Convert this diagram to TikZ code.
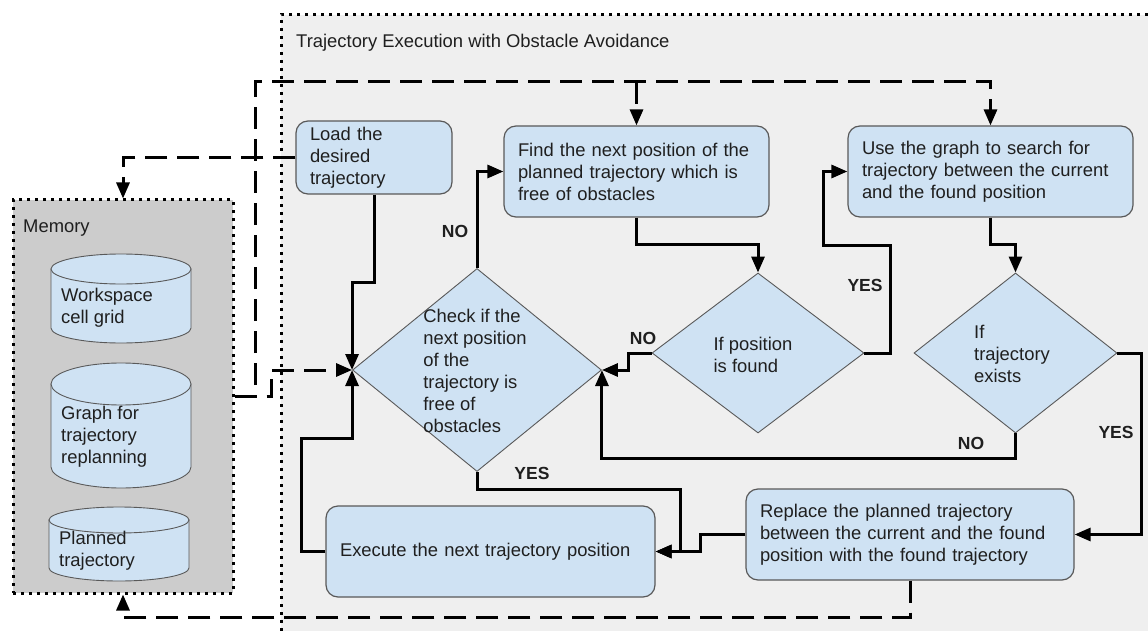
\documentclass[tikz,border=0pt]{standalone}
\usepackage{fontspec}
\setmainfont{Liberation Sans}
\usetikzlibrary{arrows.meta,shapes.geometric,calc}

\definecolor{boxblue}{HTML}{CFE2F3}
\definecolor{edgegray}{HTML}{595959}
\definecolor{panelgray}{HTML}{EFEFEF}
\definecolor{memgray}{HTML}{CCCCCC}
\definecolor{ink}{HTML}{1F1F1F}

% database cylinder: left, right, top, bottom, ellipse half-height
\newcommand{\dbcylinder}[5]{%
  \pgfmathsetmacro\cylL{#1}\pgfmathsetmacro\cylR{#2}%
  \pgfmathsetmacro\cylTop{#3}\pgfmathsetmacro\cylBot{#4}%
  \pgfmathsetmacro\cylRy{#5}%
  \pgfmathsetmacro\cylCx{(#1+#2)/2}\pgfmathsetmacro\cylRx{(#2-#1)/2}%
  \pgfmathsetmacro\cylK{0.5523}%
  \pgfmathsetmacro\cylYt{#3+#5}\pgfmathsetmacro\cylYb{#4-#5}%
  \filldraw[fill=boxblue, draw=edgegray, line width=0.9pt]
    (\cylL,\cylYt) -- (\cylL,\cylYb)
    .. controls (\cylL,\cylYb+\cylK*\cylRy) and (\cylCx-\cylK*\cylRx,\cylBot) .. (\cylCx,\cylBot)
    .. controls (\cylCx+\cylK*\cylRx,\cylBot) and (\cylR,\cylYb+\cylK*\cylRy) .. (\cylR,\cylYb)
    -- (\cylR,\cylYt) -- cycle;
  \filldraw[fill=boxblue, draw=edgegray, line width=0.9pt]
    (\cylCx,\cylYt) ellipse [x radius=\cylRx pt, y radius=\cylRy pt];
}

\begin{document}
\begin{tikzpicture}[x=1pt,y=-1pt,
  txt/.style={font=\fontsize{18.4}{22}\selectfont, text=ink},
  procbox/.style={rectangle, rounded corners=12pt, draw=edgegray, line width=1.2pt,
    fill=boxblue, inner xsep=14pt, inner ysep=0pt, align=left, txt},
  decision/.style={diamond, draw=edgegray, line width=0.9pt, fill=boxblue, inner sep=0pt},
  dectext/.style={txt, align=left, inner sep=0pt},
  conn/.style={line width=3pt, -{Triangle[length=16pt,width=13pt]}},
  dconn/.style={conn, dash pattern=on 22pt off 10pt},
  answer/.style={font=\fontsize{17.5}{20}\selectfont\bfseries, text=ink, inner sep=0pt},
  dotborder/.style={line width=3pt, dash pattern=on 3pt off 5pt},
]
\useasboundingbox (0,0) rectangle (1148,631);

% execution panel
\fill[panelgray] (281,15) rectangle (1148,631);
\draw[dotborder] (281,631) -- (281,15) -- (1148,15);
\node[txt, anchor=west, inner sep=0pt] (title) at (296,43) {Trajectory Execution with Obstacle Avoidance};

% memory store
\node[draw=black, dotborder, fill=memgray, minimum width=220pt, minimum height=393pt, inner sep=0pt] (mem) at (123,396.5) {};
\node[txt, anchor=west, inner sep=0pt] (memlabel) at (23,228) {Memory};

\dbcylinder{51}{191}{254}{343}{15}
\node[txt, align=left, anchor=west, inner sep=0pt] (wstxt) at (61,307.5) {Workspace\\cell grid};
\dbcylinder{51}{191}{363}{488}{21}
\node[txt, align=left, anchor=west, inner sep=0pt] (graphtxt) at (61,436.5) {Graph for\\trajectory\\replanning};
\dbcylinder{49}{189}{507}{581}{13}
\node[txt, align=left, anchor=west, inner sep=0pt] (plantxt) at (59,550.5) {Planned\\trajectory};

% process steps
\node[procbox, text width=128pt, minimum height=73pt] (load) at (374,157.5) {Load the\\desired\\trajectory};
\node[procbox, text width=237pt, minimum height=91pt] (find) at (636.5,171.5) {Find the next position of the\\planned trajectory which is\\free of obstacles};
\node[procbox, text width=257pt, minimum height=91pt] (use) at (990.5,171.5) {Use the graph to search for\\trajectory between the current\\and the found position};
\node[procbox, text width=301pt, minimum height=91pt] (exec) at (490.5,551.5) {Execute the next trajectory position};
\node[procbox, text width=300pt, minimum height=91pt] (rep) at (910,534.5) {Replace the planned trajectory\\between the current and the found\\position with the found trajectory};

% decisions
\node[decision, minimum width=249pt, minimum height=203pt] (check) at (477,370) {};
\node[dectext] (checktxt) at (475,371) {Check if the\\next position\\of the\\trajectory is\\free of\\obstacles};
\node[decision, minimum width=212pt, minimum height=160pt] (ifpos) at (758,353) {};
\node[dectext] (ifpostxt) at (753,355) {If position\\is found};
\node[decision, minimum width=203pt, minimum height=160pt] (iftraj) at (1015.5,353) {};
\node[dectext] (iftrajtxt) at (1012,354) {If\\trajectory\\exists};

% routing points
\coordinate (trunk) at (255,82);
\coordinate (chkin) at (271,370);
\coordinate (jload) at (0,282);
\coordinate (jexec) at (301,438);
\coordinate (jfind) at (0,244);
\coordinate (jyes1) at (890,245);
\coordinate (jyes1b) at (823,245);
\coordinate (jno1) at (628,370);
\coordinate (jno2) at (0,458);
\coordinate (jyes2) at (1141,450);
\coordinate (jyes3) at (680,489);
\coordinate (jrep) at (700,540);
\coordinate (jmem) at (0,617);

% data flow to and from memory
\draw[dconn] (mem.east) -| (chkin) -- (check.west);
\draw[dconn] (mem.east) -| (trunk) -| (use.north);
\draw[dconn] (find.north |- trunk) -- (find.north);
\draw[dconn] (load.west) -| (mem.north);
\draw[dconn] (rep.south) |- (mem.south |- jmem) -- (mem.south);

% control flow
\draw[conn] (load.south) -- (load.south |- jload) -| (check.west);
\draw[conn] (exec.west) -| (jexec) -| (check.west);
\draw[conn] (check.north) |- (find.west);
\draw[conn] (find.south) -- (find.south |- jfind) -| (ifpos.north);
\draw[conn] (ifpos.east) -| (jyes1) -- (jyes1b) |- (use.west);
\draw[conn] (ifpos.west) -| (jno1) -- (check.east);
\draw[conn] (use.south) -- (use.south |- jfind) -| (iftraj.north);
\draw[conn] (iftraj.south) |- (check.east |- jno2) -- (check.east);
\draw[conn] (iftraj.east) -| (jyes2) |- (rep.east);
\draw[conn] (check.south) |- (jyes3) |- (exec.east);
\draw[conn] (rep.west) -| (jrep) |- (exec.east);

% branch labels
\node[answer] (lno1) at (455,231) {NO};
\node[answer] (lno2) at (643,338) {NO};
\node[answer] (lyes1) at (865,285) {YES};
\node[answer] (lno3) at (971,443) {NO};
\node[answer] (lyes2) at (1116,432) {YES};
\node[answer] (lyes3) at (532,473) {YES};
\end{tikzpicture}
\end{document}
